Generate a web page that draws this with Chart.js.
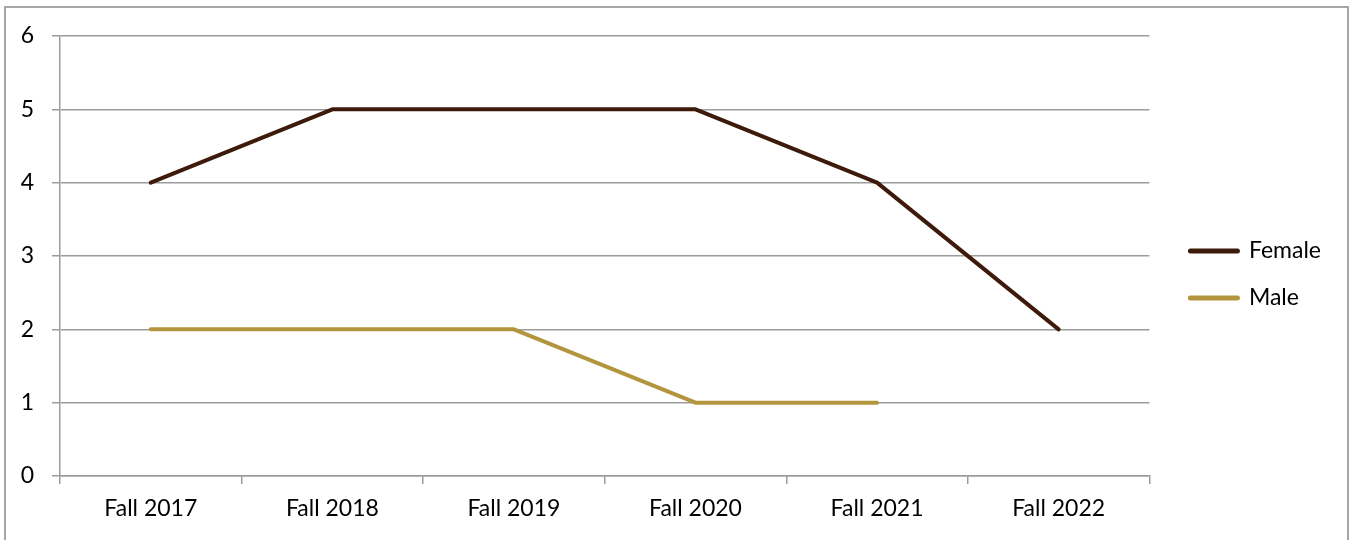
<!DOCTYPE html>
<html>
<head>
<meta charset="utf-8">
<script src="https://cdn.jsdelivr.net/npm/chart.js@4.4.1/dist/chart.umd.min.js"></script>
<style>
  body { margin: 0; background: #fff; }
  #wrap { position: absolute; left: 0; top: 0; width: 1353px; height: 540px; }
  #frame { position: absolute; left: 4px; top: 6px; width: 1345px; height: 560px; border: 2px solid #a6a6a6; box-sizing: border-box; }
</style>
</head>
<body>
<div id="frame"></div>
<div id="wrap"><canvas id="chart"></canvas></div>
<script>
const terms = ['Fall 2017', 'Fall 2018', 'Fall 2019', 'Fall 2020', 'Fall 2021', 'Fall 2022'];
const female = [4, 5, 5, 5, 4, 2];
const male = [2, 2, 2, 1, 1, null];
const yTicks = [0, 1, 2, 3, 4, 5, 6];

const gridGrey = '#9c9c9c';
const font = { family: 'Lato, "Open Sans", sans-serif', size: 23 };

// empty axes used only as spacers around the plot
function spacer(position, size) {
  return {
    type: 'linear',
    position: position,
    display: true,
    grid: { drawOnChartArea: false, drawTicks: false },
    border: { display: false },
    ticks: { display: false },
    afterFit(axis) {
      if (axis.isHorizontal()) axis.height = size;
      else axis.width = size;
    },
  };
}

const ctx = document.getElementById('chart').getContext('2d');
new Chart(ctx, {
  type: 'line',
  data: {
    labels: terms,
    datasets: [
      {
        label: 'Female',
        data: female,
        borderColor: '#3d1a0a',
        backgroundColor: '#3d1a0a',
        borderWidth: 4,
        pointRadius: 0,
        tension: 0,
        borderCapStyle: 'round',
        borderJoinStyle: 'round',
      },
      {
        label: 'Male',
        data: male,
        borderColor: '#b3953d',
        backgroundColor: '#b3953d',
        borderWidth: 4,
        pointRadius: 0,
        tension: 0,
        borderCapStyle: 'round',
        borderJoinStyle: 'round',
      },
    ],
  },
  options: {
    responsive: true,
    maintainAspectRatio: false,
    animation: false,
    layout: { padding: { top: 26, left: 14, right: 22, bottom: 17 } },
    plugins: {
      tooltip: { enabled: false },
      legend: {
        position: 'right',
        align: 'center',
        labels: {
          color: '#000',
          font: font,
          usePointStyle: true,
          pointStyle: 'line',
          pointStyleWidth: 47,
          boxWidth: 47,
          boxHeight: 23,
          padding: 24,
          generateLabels(chart) {
            return chart.data.datasets.map((ds, i) => ({
              text: ds.label,
              fillStyle: ds.borderColor,
              strokeStyle: ds.borderColor,
              lineWidth: 5,
              lineCap: 'round',
              pointStyle: 'line',
              datasetIndex: i,
              fontColor: '#000',
            }));
          },
        },
      },
    },
    scales: {
      x: {
        offset: true,
        grid: {
          offset: true,
          drawOnChartArea: false,
          drawTicks: true,
          tickLength: 8,
          color: gridGrey,
          lineWidth: 1.5,
        },
        border: { display: true, color: gridGrey, width: 1.5 },
        ticks: { color: '#000', font: font, padding: 11, maxRotation: 0 },
        afterFit(axis) { axis.height = 47; },
      },
      y: {
        min: 0,
        max: 6,
        afterBuildTicks(axis) { axis.ticks = yTicks.map(v => ({ value: v })); },
        grid: {
          color: gridGrey,
          lineWidth: 1.5,
          tickLength: 8,
        },
        border: { display: true, color: gridGrey, width: 1.5 },
        ticks: { color: '#000', font: font, padding: 18 },
        afterFit(axis) { axis.width = 46; },
      },
      gapRight: spacer('right', 17),
      gapTop: spacer('top', 10),
    },
  },
});
</script>
</body>
</html>
